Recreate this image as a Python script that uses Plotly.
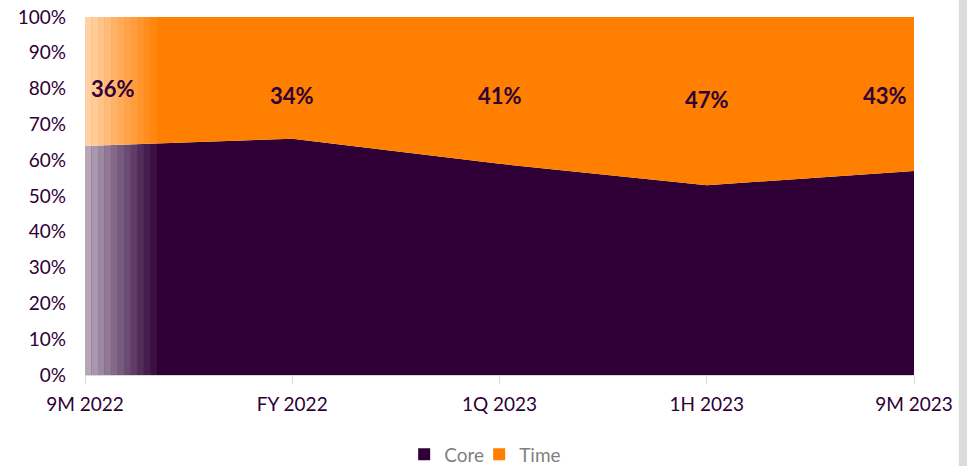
import plotly.graph_objects as go

categories = ["9M 2022", "FY 2022", "1Q 2023", "1H 2023", "9M 2023"]
core_pct = [64, 66, 59, 53, 57]
time_pct = [36, 34, 41, 47, 43]
label_text = ["36%", "34%", "41%", "47%", "43%"]
y_ticks = list(range(0, 101, 10))

CORE = "#2E0036"
TIME = "#FF7F00"
FONT = "Lato"

fig = go.Figure()
fig.add_trace(go.Scatter(
    x=categories, y=[v / 100 for v in core_pct], name="Core",
    mode="lines", line=dict(width=0, color=CORE), stackgroup="one",
    fillcolor=CORE, showlegend=False,
))
fig.add_trace(go.Scatter(
    x=categories, y=[v / 100 for v in time_pct], name="Time",
    mode="lines", line=dict(width=0, color=TIME), stackgroup="one",
    fillcolor=TIME, showlegend=False,
))
# legend-only square swatches (last one is an invisible spacer)
for name, col, op in [("Core", CORE, 1), ("Time", TIME, 1), (" ", "rgba(0,0,0,0)", 0)]:
    fig.add_trace(go.Bar(x=[None], y=[None], name=name, opacity=op,
                         marker=dict(color=col, line=dict(width=0, color="rgba(0,0,0,0)")),
                         showlegend=True))

# labels for Time share
n = len(categories)
for i, (c, t) in enumerate(zip(categories, label_text)):
    xshift = 0
    ypos = 0.78
    if i == 0:
        xshift = 28
        ypos = 0.80
    elif i == n - 1:
        xshift = -29
    elif i == 3:
        ypos = 0.77
    fig.add_annotation(x=i, y=ypos, text=f"<b>{t}</b>", showarrow=False,
                       xshift=xshift, font=dict(family=FONT, size=22, color=CORE))

# left fade effect
steps = 11
width = 0.347
for k in range(steps):
    x0 = k * width / steps
    x1 = (k + 1) * width / steps
    op = 0.65 * (1 - k / steps)
    fig.add_shape(type="rect", xref="x", yref="y", x0=x0, x1=x1, y0=0, y1=1,
                  fillcolor="white", opacity=op, line=dict(width=0), layer="above")

# right gray strip
fig.add_shape(type="rect", xref="paper", yref="paper", x0=1.054, x1=1.07,
              y0=-0.3, y1=1.1, fillcolor="#DCDCDC", line=dict(width=0))

fig.update_layout(
    width=967, height=466,
    margin=dict(l=85, r=53, t=17, b=91, autoexpand=False),
    paper_bgcolor="white", plot_bgcolor="white",
    font=dict(family=FONT, size=19, color=CORE),
    showlegend=True,
    barmode="overlay",
    legend=dict(orientation="h", x=0.385, xanchor="left", y=-0.222, yanchor="middle",
                font=dict(family=FONT, size=19, color="#7F7F7F"),
                traceorder="normal", itemwidth=30,
                entrywidth=30, entrywidthmode="pixels"),
)
fig.update_xaxes(type="category", range=[0, n - 1], showgrid=False,
                 showline=True, linecolor="#D9D9D9", linewidth=1,
                 ticks="outside", ticklen=8, tickcolor="#D9D9D9",
                 ticklabelstandoff=4,
                 tickfont=dict(family=FONT, size=19, color=CORE))
fig.update_yaxes(range=[0, 1], tickvals=[v / 100 for v in y_ticks],
                 ticktext=[f"{v}%" for v in y_ticks], showgrid=False,
                 zeroline=False, showline=False, ticks="",
                 ticklabelstandoff=18,
                 tickfont=dict(family=FONT, size=19, color=CORE))

fig.write_html("out.html")
